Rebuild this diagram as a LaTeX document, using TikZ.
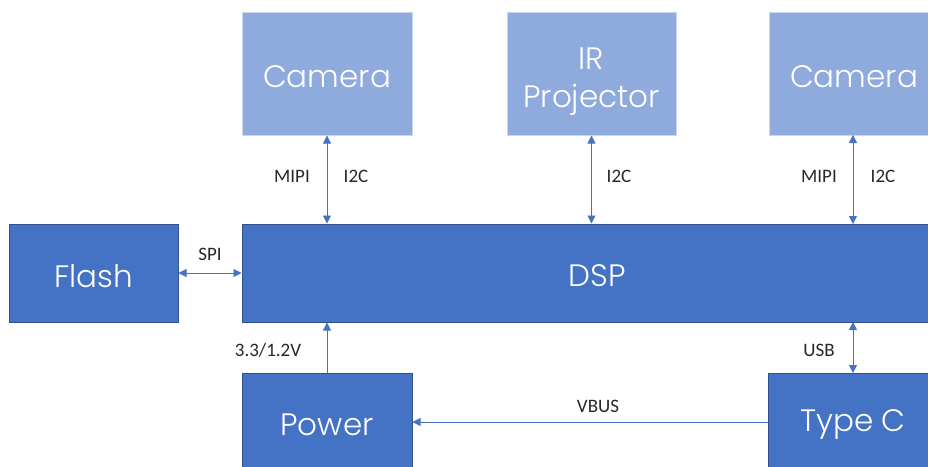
\documentclass[tikz,border=0pt]{standalone}
\usepackage{fontspec}
\setmainfont{Poppins Light}
\newfontfamily\lblfont{Carlito}
\usetikzlibrary{arrows.meta}
\definecolor{lightbox}{HTML}{8FAADC}
\definecolor{lightedge}{HTML}{C9D6EE}
\definecolor{darkbox}{HTML}{4472C4}
\definecolor{darkedge}{HTML}{2F528F}
\definecolor{conn}{HTML}{4472C4}
\begin{document}
\begin{tikzpicture}[x=1pt,y=-1pt,
  boxtext/.style={text=white, font=\fontsize{31}{34}\selectfont, align=center, inner sep=0pt},
  lbox/.style={draw=lightedge, line width=1pt, fill=lightbox, inner sep=0pt},
  dbox/.style={draw=darkedge, line width=1pt, fill=darkbox, inner sep=0pt},
  conn/.style={draw=conn, line width=0.8pt, {Triangle[length=8pt,width=8pt]}-{Triangle[length=8pt,width=8pt]}},
  connone/.style={draw=conn, line width=0.8pt, -{Triangle[length=8pt,width=8pt]}},
  lbl/.style={font=\lblfont\fontsize{19}{21}\selectfont, text=black!85, inner sep=0pt}]
\useasboundingbox (0,0) rectangle (928,466);
\begin{scope}
\clip (0,0) rectangle (928,466);
\node[lbox, minimum width=170pt, minimum height=123pt, label={[boxtext, yshift=-3pt]center:Camera}] (cam1) at (327,73.5) {};
\node[lbox, minimum width=169pt, minimum height=123pt, label={[boxtext, yshift=-8pt]center:{IR\\[4pt]Projector}}] (ir) at (591.5,73.5) {};
\node[lbox, minimum width=170pt, minimum height=123pt, label={[boxtext, yshift=-3pt]center:Camera}] (cam2) at (854,73.5) {};
\node[dbox, minimum width=710pt, minimum height=98pt, label={[boxtext, yshift=-3pt]center:DSP}] (dsp) at (597,273) {};
\node[dbox, minimum width=169pt, minimum height=98pt, label={[boxtext, yshift=-3pt]center:Flash}] (flash) at (93.5,273) {};
\node[dbox, minimum width=170pt, minimum height=98pt, label={[boxtext, yshift=-3pt]center:Power}] (power) at (327,422) {};
\node[dbox, minimum width=170pt, minimum height=98pt, label={[boxtext, yshift=-3pt]center:Type C}] (typec) at (853,422) {};
\end{scope}
\draw[conn] (cam1.south) -- (cam1.south |- dsp.north);
\draw[conn] (ir.south) -- (ir.south |- dsp.north);
\draw[conn] (853,135) coordinate (c2s) -- (853,224) coordinate (d2n);
\draw[conn] (flash.east) -- (flash.east -| dsp.west);
\draw[connone] (power.north) -- (power.north |- dsp.south);
\draw[conn] (853,322) coordinate (d2s) -- (853,373) coordinate (tcn);
\draw[connone] (typec.west) -- (typec.west -| power.east);
\node[lbl] (l1) at (292,176) {MIPI};
\node[lbl] (l2) at (356,176) {I2C};
\node[lbl] (l3) at (619,176) {I2C};
\node[lbl] (l4) at (819,176) {MIPI};
\node[lbl] (l5) at (883,176) {I2C};
\node[lbl] (l6) at (210,254) {SPI};
\node[lbl] (l7) at (268,350) {3.3/1.2V};
\node[lbl] (l8) at (819,350) {USB};
\node[lbl] (l9) at (598,406) {VBUS};
\end{tikzpicture}
\end{document}
